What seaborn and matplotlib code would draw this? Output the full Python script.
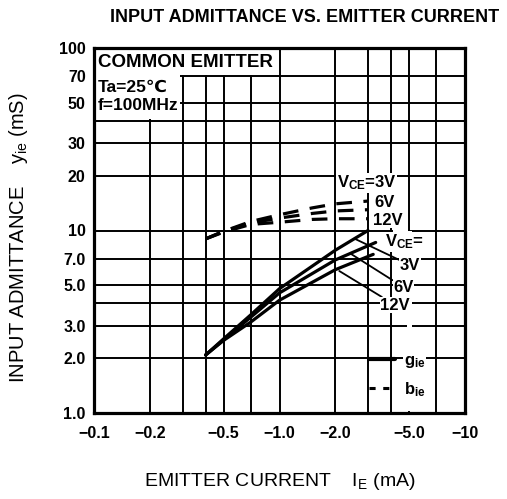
import numpy as np
import pandas as pd
import seaborn as sns
import matplotlib.pyplot as plt
from matplotlib.patches import Rectangle
from matplotlib.lines import Line2D
from matplotlib.ticker import FixedLocator, FixedFormatter, NullFormatter

#values: |IE| in mA, admittance in mS
ie_g_3v = [0.4, 0.5, 0.7, 1.0, 2.0, 3.0]
gie_3v = [2.08, 2.55, 3.45, 4.8, 7.8, 10.0]
ie_g_6v = [0.4, 0.5, 0.7, 1.0, 2.0, 3.3]
gie_6v = [2.08, 2.52, 3.35, 4.55, 6.9, 8.6]
ie_g_12v = [0.4, 0.5, 0.7, 1.0, 2.0, 3.2]
gie_12v = [2.08, 2.5, 3.15, 4.15, 6.1, 7.4]

ie_b = [0.4, 0.5, 0.7, 1.0, 1.5, 2.0, 3.0]
bie_3v = [9.0, 9.9, 11.2, 12.2, 13.3, 14.0, 14.5]
bie_6v = [9.0, 9.9, 11.0, 11.7, 12.4, 12.8, 13.0]
bie_12v = [9.0, 9.8, 10.8, 11.1, 11.5, 11.6, 11.6]

x_ticks = [0.1, 0.2, 0.5, 1, 2, 5, 10]
x_labels = ["\u22120.1", "\u22120.2", "\u22120.5", "\u22121.0", "\u22122.0", "\u22125.0", "\u221210"]
x_minor = [0.3, 0.4, 0.7, 3, 4, 7]
y_ticks = [1, 2, 3, 5, 7, 10, 20, 30, 50, 70, 100]
y_labels = ["1.0", "2.0", "3.0", "5.0", "7.0", "10", "20", "30", "50", "70", "100"]
y_minor = [4, 40]

#long form tables for seaborn
g_df = pd.concat([
    pd.DataFrame({"ie": ie_g_3v, "y": gie_3v, "vce": "3V"}),
    pd.DataFrame({"ie": ie_g_6v, "y": gie_6v, "vce": "6V"}),
    pd.DataFrame({"ie": ie_g_12v, "y": gie_12v, "vce": "12V"}),
])
b_df = pd.concat([
    pd.DataFrame({"ie": ie_b, "y": bie_3v, "vce": "3V"}),
    pd.DataFrame({"ie": ie_b, "y": bie_6v, "vce": "6V"}),
    pd.DataFrame({"ie": ie_b, "y": bie_12v, "vce": "12V"}),
])

sns.set_style("white")
plt.rcParams["font.family"] = ["Liberation Sans", "DejaVu Sans"]
plt.rcParams["mathtext.fontset"] = "custom"
plt.rcParams["mathtext.rm"] = "Liberation Sans"
plt.rcParams["mathtext.bf"] = "Liberation Sans:bold"
for k in ["text.color", "axes.labelcolor", "xtick.color", "ytick.color"]:
    plt.rcParams[k] = "black"

fig = plt.figure(figsize=(5.07, 4.99), dpi=100)
ax = fig.add_axes([94 / 507, 86 / 499, 371 / 507, 365 / 499])

sns.lineplot(data=g_df, x="ie", y="y", units="vce", estimator=None, color="black",
             lw=2.3, legend=False, ax=ax, zorder=3)
sns.lineplot(data=b_df, x="ie", y="y", units="vce", estimator=None, color="black",
             lw=2.3, linestyle=(0, (4.9, 3.6)), legend=False, ax=ax, zorder=3)

ax.set_xscale("log")
ax.set_yscale("log")
ax.set_xlim(0.1, 10)
ax.set_ylim(1, 100)
ax.xaxis.set_major_locator(FixedLocator(x_ticks))
ax.xaxis.set_major_formatter(FixedFormatter(x_labels))
ax.xaxis.set_minor_locator(FixedLocator(x_minor))
ax.xaxis.set_minor_formatter(NullFormatter())
ax.yaxis.set_major_locator(FixedLocator(y_ticks))
ax.yaxis.set_major_formatter(FixedFormatter(y_labels))
ax.yaxis.set_minor_locator(FixedLocator(y_minor))
ax.yaxis.set_minor_formatter(NullFormatter())
ax.set_xlabel("")
ax.set_ylabel("")

ax.set_axisbelow(True)
ax.grid(True, which="both", color="black", lw=1.4)
ax.tick_params(which="both", length=0, labelsize=11.5, pad=6)
ax.tick_params(axis="x", pad=9)
for lab in ax.get_xticklabels() + ax.get_yticklabels():
    lab.set_fontweight("bold")
for s in ax.spines.values():
    s.set_linewidth(2.3)
    s.set_color("black")

#white areas of the datasheet where the grid is left out
white = dict(facecolor="white", edgecolor="none", zorder=1)
ax.add_patch(Rectangle((0.1, 71.5), 0.885, 30, **white))
ax.add_patch(Rectangle((0.1, 41), 0.19, 31, **white))
ax.add_patch(Rectangle((3.3, 10.3), 1.65, 8.7, **white))
ax.add_patch(Rectangle((4.1, 7.3), 0.85, 3.2, **white))
ax.add_patch(Rectangle((4.85, 1.03), 0.3, 8.9, **white))

# conditions box
ax.text(0.105, 83, "COMMON EMITTER", fontsize=13.5, fontweight="bold", va="center")
ax.text(0.105, 60.5, "Ta=25\u2103", fontsize=12.5, fontweight="bold", va="center")
ax.text(0.105, 48.5, "f=100MHz", fontsize=12.5, fontweight="bold", va="center")

bg = dict(facecolor="white", edgecolor="none", pad=0.5)

# b_ie labels
lab_kw = dict(fontsize=12, fontweight="bold", va="center", zorder=4)
ax.text(2.03, 18.2, r"V$\mathbf{_{CE}}$=3V", bbox=bg, **lab_kw)
ax.text(3.25, 14.3, "6V", bbox=bg, **lab_kw)
ax.text(3.2, 11.4, "12V", bbox=bg, **lab_kw)

# g_ie labels with leader lines
ax.text(3.7, 8.65, r"V$\mathbf{_{CE}}$=", bbox=bg, **lab_kw)
leader = dict(arrowstyle="-", color="black", lw=1.3, shrinkA=0, shrinkB=0)
ax.annotate("3V", xy=(2.55, 9.0), xytext=(4.45, 6.47), arrowprops=leader, bbox=bg, **lab_kw)
ax.annotate("6V", xy=(2.45, 7.4), xytext=(4.1, 4.9), arrowprops=leader, bbox=bg, **lab_kw)
ax.annotate("12V", xy=(2.1, 6.0), xytext=(3.5, 3.9), arrowprops=leader, bbox=bg, **lab_kw)

handles = [Line2D([], [], color="black", lw=3),
           Line2D([], [], color="black", lw=2.2, linestyle=(0, (2, 2.5)))]
leg = ax.legend(handles, [r"g$\mathbf{_{ie}}$", r"b$\mathbf{_{ie}}$"],
                loc="upper left", bbox_to_anchor=(0.70, 0.205), frameon=False,
                handlelength=1.6, handletextpad=0.5, labelspacing=0.6,
                prop={"size": 12, "weight": "bold"})
for t in leg.get_texts():
    t.set_bbox(bg)

fig.text(0.6, 1 - 18 / 499, "INPUT ADMITTANCE VS. EMITTER CURRENT", ha="center",
         va="center", fontsize=13, fontweight="bold")
fig.text(19 / 507, 1 - 238 / 499, r"INPUT ADMITTANCE    y$\mathregular{_{ie}}$ (mS)",
         rotation=90, ha="center", va="center", fontsize=14.5)
fig.text(280 / 507, 1 - 482 / 499, r"EMITTER CURRENT    I$\mathregular{_{E}}$ (mA)",
         ha="center", va="center", fontsize=14)

fig.savefig("out.png", dpi=100)
